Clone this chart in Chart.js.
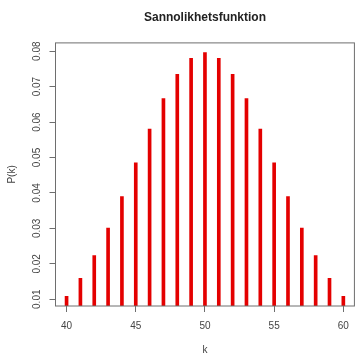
<!DOCTYPE html>
<html>
<head>
<meta charset="utf-8">
<script src="https://cdn.jsdelivr.net/npm/chart.js@4"></script>
<style>
  html, body { margin: 0; padding: 0; background: #fff; }
  #wrap { width: 357px; height: 354px; }
</style>
</head>
<body>
<div id="wrap"><canvas id="chart" width="357" height="354"></canvas></div>
<script>
var kValues = [40, 41, 42, 43, 44, 45, 46, 47, 48, 49, 50, 51, 52, 53, 54, 55, 56, 57, 58, 59, 60];
var probValues = [0.0108, 0.0159, 0.0223, 0.0301, 0.0390, 0.0485, 0.0580, 0.0666, 0.0735, 0.0780, 0.0796,
  0.0780, 0.0735, 0.0666, 0.0580, 0.0485, 0.0390, 0.0301, 0.0223, 0.0159, 0.0108];
var xTicks = [40, 45, 50, 55, 60];
var yTicks = [0.01, 0.02, 0.03, 0.04, 0.05, 0.06, 0.07, 0.08];

var points = [];
for (var i = 0; i < kValues.length; i++) {
  points.push({ x: kValues[i], y: probValues[i] });
}

var axisColor = '#6e6e6e';
var textColor = '#444';
var fontFamily = '"Liberation Sans", Arial, sans-serif';

// box round the plot region, like R's box()
var boxPlugin = {
  id: 'box',
  afterDraw: function(chart) {
    var a = chart.chartArea;
    var ctx = chart.ctx;
    ctx.save();
    ctx.strokeStyle = axisColor;
    ctx.lineWidth = 1;
    ctx.strokeRect(a.left, a.top, a.right - a.left, a.bottom - a.top);
    ctx.restore();
  }
};

var ctx = document.getElementById('chart').getContext('2d');
var myChart = new Chart(ctx, {
  type: 'bar',
  data: {
    datasets: [{
      data: points,
      backgroundColor: '#e40000',
      borderWidth: 0,
      barThickness: 3,
      grouped: false
    }]
  },
  plugins: [boxPlugin],
  options: {
    responsive: false,
    animation: false,
    devicePixelRatio: 1,
    layout: { padding: { left: 0, right: 0.5, top: 0, bottom: 0 } },
    plugins: {
      legend: { display: false },
      tooltip: { enabled: false },
      title: {
        display: true,
        fullSize: false,
        text: 'Sannolikhetsfunktion',
        color: '#222',
        font: { family: fontFamily, size: 12, weight: 'bold', lineHeight: 1.2 },
        padding: { top: 10, bottom: 18.5 }
      }
    },
    scales: {
      x: {
        type: 'linear',
        min: 39.2,
        max: 60.8,
        offset: false,
        afterBuildTicks: function(scale) {
          scale.ticks = xTicks.map(function(v) { return { value: v }; });
        },
        afterFit: function(scale) { scale.height = 48; },
        border: { display: false },
        grid: { offset: false, drawOnChartArea: false, drawTicks: true, tickLength: 6, color: axisColor },
        ticks: {
          color: textColor,
          padding: 8,
          maxRotation: 0,
          autoSkip: false,
          font: { family: fontFamily, size: 10 }
        },
        title: {
          display: true,
          text: 'k',
          color: textColor,
          font: { family: fontFamily, size: 10, lineHeight: 0.8 },
          padding: { top: 0, bottom: 0 }
        }
      },
      y: {
        min: 0.00809,
        max: 0.08234,
        afterBuildTicks: function(scale) {
          scale.ticks = yTicks.map(function(v) { return { value: v }; });
        },
        afterFit: function(scale) { scale.width = 55.5; },
        border: { display: false },
        grid: { drawOnChartArea: false, drawTicks: true, tickLength: 6, color: axisColor },
        ticks: {
          color: textColor,
          padding: 2.5,
          minRotation: 90,
          maxRotation: 90,
          crossAlign: 'center',
          autoSkip: false,
          font: { family: fontFamily, size: 10 },
          callback: function(value) { return value.toFixed(2); }
        },
        title: {
          display: true,
          text: 'P(k)',
          color: textColor,
          font: { family: fontFamily, size: 10, lineHeight: 1.2 },
          padding: { top: 6.5, bottom: 0 }
        }
      }
    }
  }
});
</script>
</body>
</html>
